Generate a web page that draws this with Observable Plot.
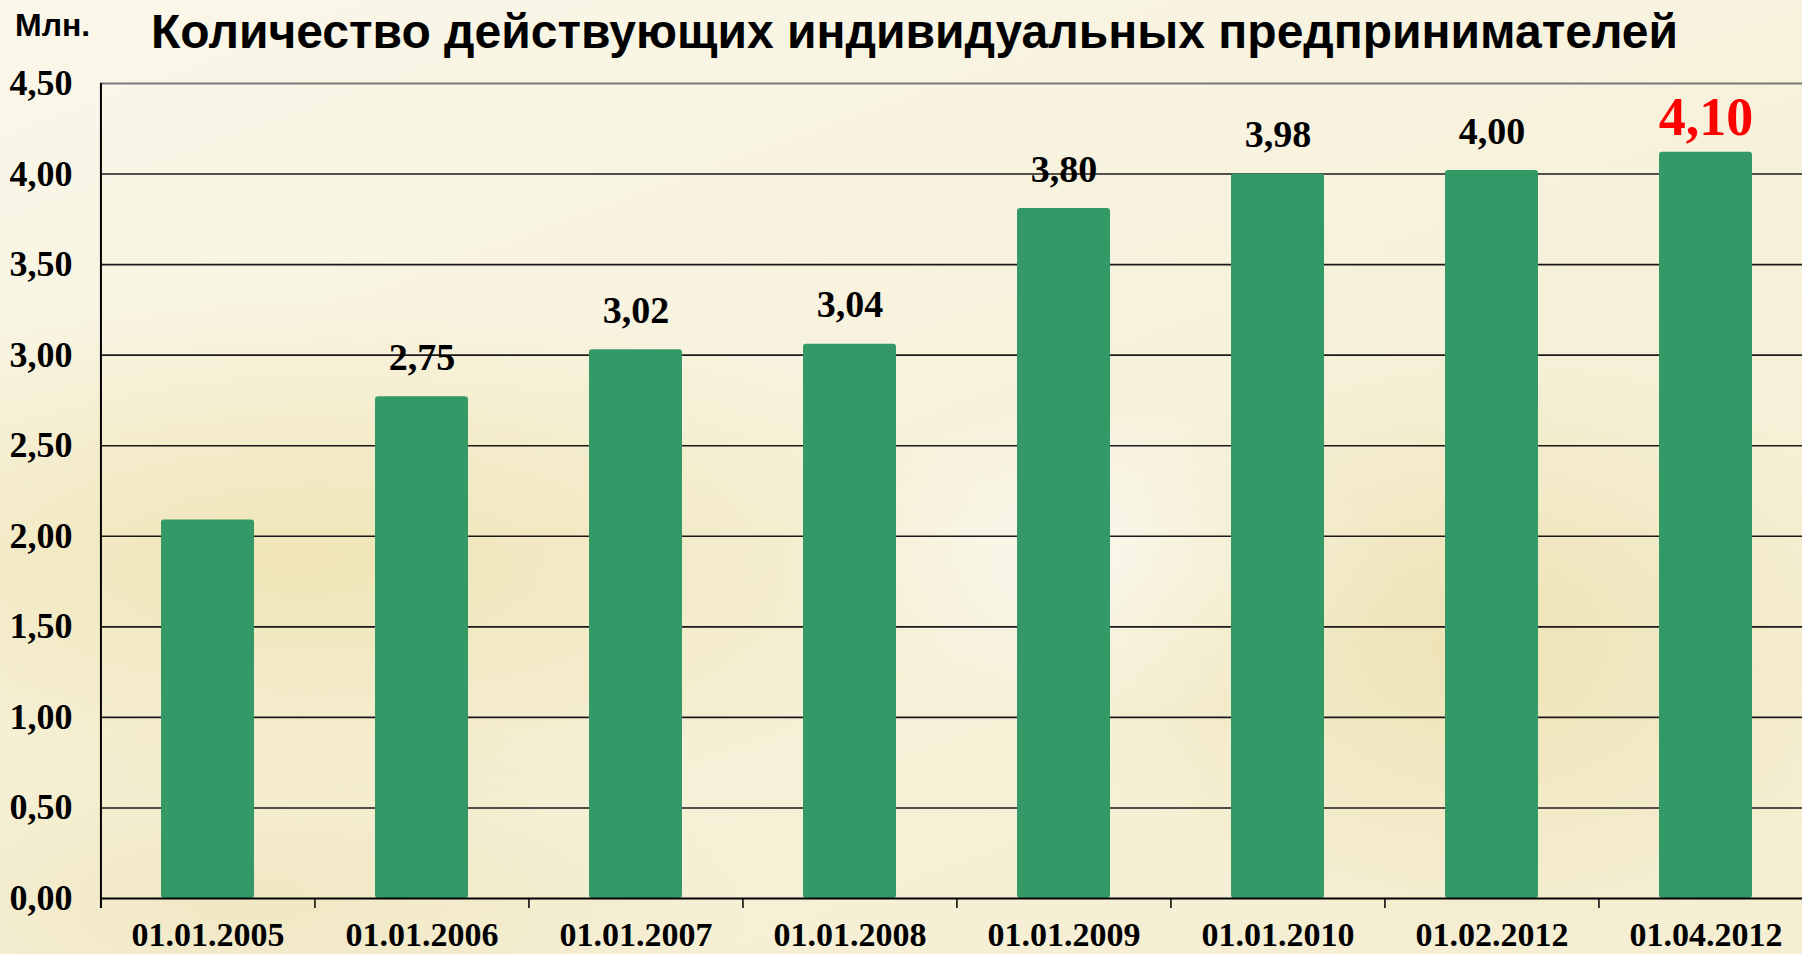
<!DOCTYPE html>
<html>
<head>
<meta charset="utf-8">
<script src="https://cdn.jsdelivr.net/npm/d3@7"></script>
<script src="https://cdn.jsdelivr.net/npm/@observablehq/plot@0.6"></script>
<style>
  html, body { margin: 0; padding: 0; }
  body {
    width: 1802px; height: 954px; overflow: hidden; position: relative;
    background:
      radial-gradient(ellipse 420px 300px at 1480px 640px, rgba(228,212,140,0.45), rgba(228,212,140,0) 100%),
      radial-gradient(ellipse 300px 160px at 1100px 560px, rgba(255,255,255,0.55), rgba(255,255,255,0) 100%),
      radial-gradient(ellipse 700px 260px at 300px 560px, rgba(232,218,150,0.55), rgba(232,218,150,0) 100%),
      radial-gradient(ellipse 500px 200px at 250px 900px, rgba(232,220,165,0.4), rgba(232,220,165,0) 100%),
      linear-gradient(160deg, #faf7ea 0%, #f8f3df 35%, #f6f0d8 60%, #f5eed2 100%);
  }
  #head { position: relative; height: 60px; }
  #unit { position: absolute; left: 15px; top: 9px; font: bold 32px/32px "Liberation Sans", Arial, sans-serif; color: #000; }
  #title { position: absolute; left: 151px; top: 8px; font: bold 48px/48px "Liberation Sans", Arial, sans-serif; color: #000; white-space: nowrap; }
  #chart svg { display: block; }
</style>
</head>
<body>
<div id="head">
  <div id="unit">Млн.</div>
  <div id="title">Количество действующих индивидуальных предпринимателей</div>
</div>
<div id="chart"></div>
<script>
const dates = ["01.01.2005", "01.01.2006", "01.01.2007", "01.01.2008", "01.01.2009", "01.01.2010", "01.02.2012", "01.04.2012"];
const values = [2.09, 2.77, 3.03, 3.06, 3.81, 4.00, 4.02, 4.12];
const valueLabels = ["", "2,75", "3,02", "3,04", "3,80", "3,98", "4,00", "4,10"];
const yTicks = [0, 0.5, 1, 1.5, 2, 2.5, 3, 3.5, 4, 4.5];
const highlight = "01.04.2012";

const data = dates.map((d, i) => ({date: d, value: values[i], label: valueLabels[i]}));
const normal = data.filter(d => d.date !== highlight && d.label !== "");
const special = data.filter(d => d.date === highlight);

const W = 1802, H = 894;
const left = 100, right = 1813;
const step = (right - left) / dates.length;
const serif = "'Liberation Serif', 'Times New Roman', serif";

const chart = Plot.plot({
  width: W,
  height: H,
  marginLeft: left,
  marginRight: W - right,
  marginTop: 23,
  marginBottom: 56,
  style: {background: "transparent", overflow: "hidden"},
  x: {domain: dates, range: [left, right], paddingInner: 0.565, paddingOuter: 0.2825, axis: null, label: null},
  y: {domain: [0, 4.5], axis: null, label: null},
  marks: [
    Plot.ruleY(yTicks.filter(t => t > 0 && t < 4.5), {stroke: "#1a1a1a", strokeWidth: 1.6}),
    Plot.ruleY([4.5], {stroke: "#7a7a7a", strokeWidth: 2}),
    Plot.barY(data, {x: "date", y: "value", fill: "#339966", rx: 3}),
    Plot.ruleY([0], {stroke: "#000", strokeWidth: 2}),
    Plot.ruleX([dates[0]], {y1: 4.5, y2: 0, dx: -step / 2, insetBottom: -10, stroke: "#000", strokeWidth: 2}),
    Plot.ruleX(dates.slice(1), {y1: 0, y2: 0, dx: -step / 2, insetBottom: -10, stroke: "#000", strokeWidth: 1.5}),
    Plot.ruleY(yTicks, {x1: dates[0], x2: dates[0], dx: -step / 2, insetLeft: -10, stroke: "#000", strokeWidth: 1.5}),
    Plot.axisY({
      ticks: yTicks, tickSize: 10, tickPadding: 18, stroke: "none",
      tickFormat: d => d.toFixed(2).replace(".", ","),
      fontSize: 36, fontWeight: "bold", fontFamily: serif, fill: "#000"
    }),
    Plot.axisX({
      tickSize: 0, tickPadding: 23,
      fontSize: 34, fontWeight: "bold", fontFamily: serif, fill: "#000"
    }),
    Plot.text(normal, {x: "date", y: "value", text: "label", dy: -39, fontSize: 38, fontWeight: "bold", fontFamily: serif, fill: "#000"}),
    Plot.text(special, {x: "date", y: "value", text: "label", dy: -35, fontSize: 54, fontWeight: "bold", fontFamily: serif, fill: "#ff0000"})
  ]
});
document.getElementById("chart").appendChild(chart);
</script>
</body>
</html>
